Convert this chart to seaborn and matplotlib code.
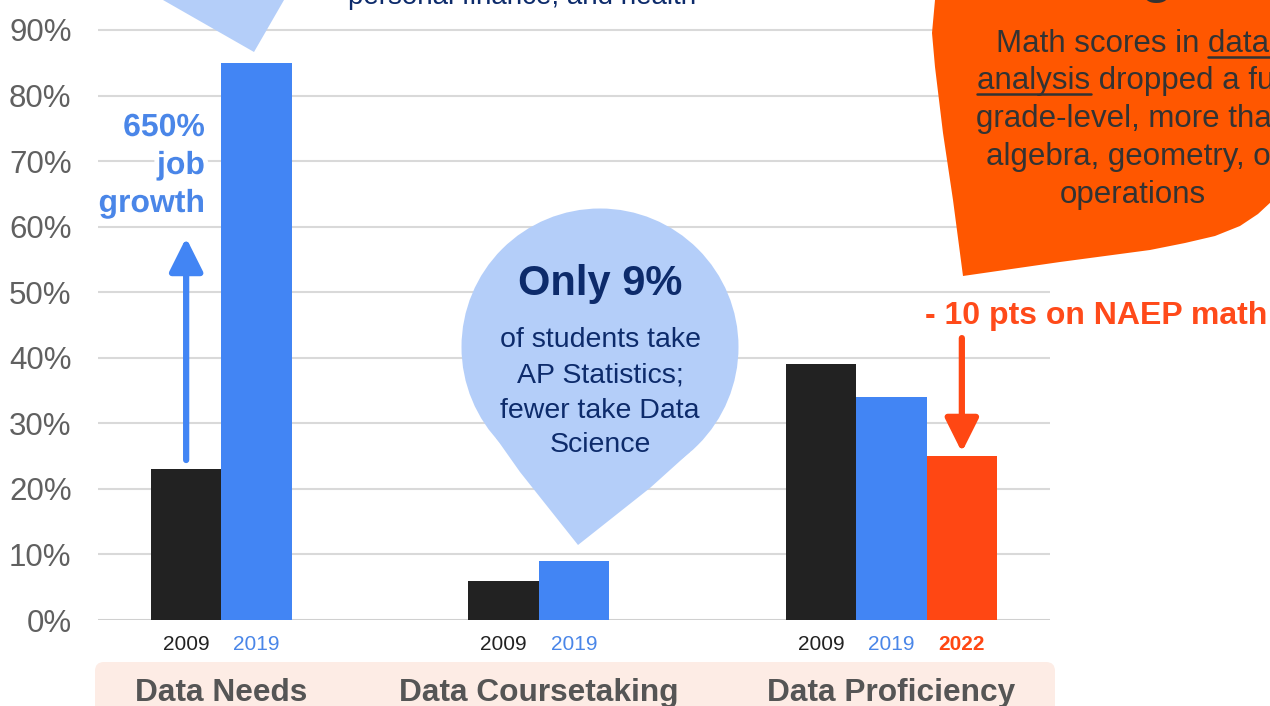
import numpy as np
import pandas as pd
import matplotlib
matplotlib.use('Agg')
import matplotlib.pyplot as plt
import matplotlib.patheffects as pe
from matplotlib.patches import Polygon, Circle, FancyBboxPatch
from matplotlib.transforms import Affine2D, blended_transform_factory
import seaborn as sns

# data
groups = ['Data Needs', 'Data Coursetaking', 'Data Proficiency']
years = ['2009', '2019', '2022']
needs = [23, 85]           # 2009, 2019
coursetaking = [6, 9]      # 2009, 2019
proficiency = [39, 34, 25] # 2009, 2019, 2022
yticks = [0, 10, 20, 30, 40, 50, 60, 70, 80, 90]

rows = []
for g, vals in zip(groups, [needs, coursetaking, proficiency]):
    for y, v in zip(years, vals):
        rows.append({'group': g, 'year': y, 'value': v})
df = pd.DataFrame(rows)

bar_colors = {'2009': '#222222', '2019': '#4285f4', '2022': '#ff4713'}
year_text = {'2009': '#222222', '2019': '#4a86e8', '2022': '#ff4713'}
navy = '#0d2b6b'
light_blue = '#b4cef9'
orange = '#ff5700'

sns.set_theme(style='white')
plt.rcParams['font.family'] = ['Liberation Sans', 'DejaVu Sans']

W, H = 1270, 706
fig = plt.figure(figsize=(12.7, 7.06), dpi=100)
pix = Affine2D().scale(1 / W, -1 / H).translate(0, 1) + fig.transFigure

ax = fig.add_axes([98 / W, 86 / H, 952 / W, 620 / H])
sns.barplot(data=df, x='group', y='value', hue='year', order=groups,
            hue_order=years, palette=bar_colors, width=2 / 3, saturation=1,
            linewidth=0, legend=False, ax=ax, zorder=3)

ax.set_xlim(-0.5, 2.5)
ax.set_ylim(0, 94.57)
ax.set_yticks(yticks)
ax.set_yticklabels([f'{v}%' for v in yticks], fontsize=22.5, color='#606060')
ax.set_xticks([])
ax.set_xlabel('')
ax.set_ylabel('')
ax.tick_params(axis='y', length=0, pad=19)
ax.yaxis.grid(True, color='#d9d9d9', linewidth=1.5, zorder=0)
ax.set_axisbelow(True)
for s in ax.spines.values():
    s.set_visible(False)
ax.axhline(0, color='#cfcfcf', linewidth=2, zorder=2)

# x from data, y in pixels from the top of the picture
xpix = blended_transform_factory(ax.transData, pix)

# year labels under each bar, group labels under each group
centers = {g: [] for g in range(len(groups))}
for yr, cont in zip(years, ax.containers):
    for bar in cont:
        if np.isnan(bar.get_height()) or bar.get_height() == 0:
            continue
        cx = bar.get_x() + bar.get_width() / 2
        centers[int(round(cx))].append(cx)
        fig.text(cx, 650, yr, transform=xpix, ha='center', va='baseline', fontsize=15,
                 color=year_text[yr], fontweight='bold' if yr == '2022' else 'normal')

fig.add_artist(FancyBboxPatch((95, 662), 960, 80, boxstyle='round,pad=0,rounding_size=9',
                              transform=pix, facecolor='#fdece5', edgecolor='none', zorder=0.5))
for gi, g in enumerate(groups):
    cx = np.mean(centers[gi])
    fig.text(cx, 701, g, transform=xpix, ha='center', va='baseline', fontsize=22.8,
             fontweight='bold', color='#555555', zorder=2)

# top-left callout tail and cut text
fig.add_artist(Polygon([(160, -5), (163, 0), (254, 52), (284, 0), (286, -5)],
                       closed=True, transform=pix, facecolor=light_blue, edgecolor='none', zorder=1))
fig.text(348, 4.5, 'personal finance, and health', transform=pix, ha='left', va='baseline',
         fontsize=20, color=navy)

# 650% job growth
for t, yb in zip(['650%', 'job', 'growth'], [136, 174, 212]):
    fig.text(205, yb, t, transform=pix, ha='right', va='baseline', fontsize=23,
             fontweight='bold', color='#4a86e8', zorder=4,
             path_effects=[pe.withStroke(linewidth=7, foreground='white')])
ax.annotate('', xy=(-2 / 9, 58.3), xytext=(-2 / 9, 24.4),
            arrowprops=dict(arrowstyle='-|>,head_length=1.7,head_width=0.85',
                            color='#4285f4', lw=4.5, shrinkA=0, shrinkB=0), zorder=5)

# middle bubble
fig.add_artist(Circle((600, 347), 138.5, transform=pix, facecolor=light_blue,
                      edgecolor='none', zorder=1))
fig.add_artist(Polygon([(496, 438), (520, 472), (578, 545), (650, 488), (690, 452), (640, 420)],
                       closed=True, transform=pix, facecolor=light_blue, edgecolor='none', zorder=1))
fig.text(600, 295, 'Only 9%', transform=pix, ha='center', va='baseline', fontsize=30,
         fontweight='bold', color=navy, zorder=2)
for t, yb in zip(['of students take', 'AP Statistics;', 'fewer take Data', 'Science'],
                 [347, 383, 418, 452]):
    fig.text(600, yb, t, transform=pix, ha='center', va='baseline', fontsize=20.5,
             color=navy, zorder=2)

# proficiency callout
fig.text(925, 324, '- 10 pts on NAEP math', transform=pix, ha='left', va='baseline',
         fontsize=23, fontweight='bold', color='#ff4a1a', zorder=4)
ax.annotate('', xy=(2 + 2 / 9, 25.6), xytext=(2 + 2 / 9, 43.0),
            arrowprops=dict(arrowstyle='-|>,head_length=1.7,head_width=0.85',
                            color='#ff4713', lw=4.5, shrinkA=0, shrinkB=0), zorder=5)

# orange blob top right
blob = [(940, -10), (935, 0), (932, 33), (935, 67), (943, 133), (953, 200), (963, 276),
        (1060, 262), (1150, 250), (1185, 243), (1215, 236), (1240, 226), (1258, 214),
        (1272, 201), (1275, -10)]
fig.add_artist(Polygon(blob, closed=True, transform=pix, facecolor=orange,
                       edgecolor='none', zorder=1))
fig.text(1157, -8, 'g', transform=pix, ha='center', va='baseline', fontsize=38,
         fontweight='bold', color='#333333', zorder=2)
blob_lines = ['Math scores in data', 'analysis dropped a full', 'grade-level, more than',
              'algebra, geometry, or', 'operations']
blob_texts = []
for t, yb in zip(blob_lines, [52, 89, 127, 165, 203]):
    blob_texts.append(fig.text(1133, yb, t, transform=pix, ha='center', va='baseline',
                               fontsize=22.5, color='#333333', zorder=2))

# underline "data" and "analysis"
r = fig.canvas.get_renderer()


def word_width(word):
    tmp = fig.text(0, 0, word, fontsize=22.5)
    w = tmp.get_window_extent(r).width
    tmp.remove()
    return w


dpi_scale = fig.dpi / 100
bb1 = blob_texts[0].get_window_extent(r)
w_data = word_width('data')
fig.add_artist(plt.Line2D([(bb1.x1 - w_data) / dpi_scale, bb1.x1 / dpi_scale], [57, 57],
                          transform=pix, color='#333333', lw=1.8, zorder=2))
bb2 = blob_texts[1].get_window_extent(r)
w_an = word_width('analysis')
fig.add_artist(plt.Line2D([bb2.x0 / dpi_scale, (bb2.x0 + w_an) / dpi_scale], [94, 94],
                          transform=pix, color='#333333', lw=1.8, zorder=2))

fig.savefig('out.png', dpi=100)
